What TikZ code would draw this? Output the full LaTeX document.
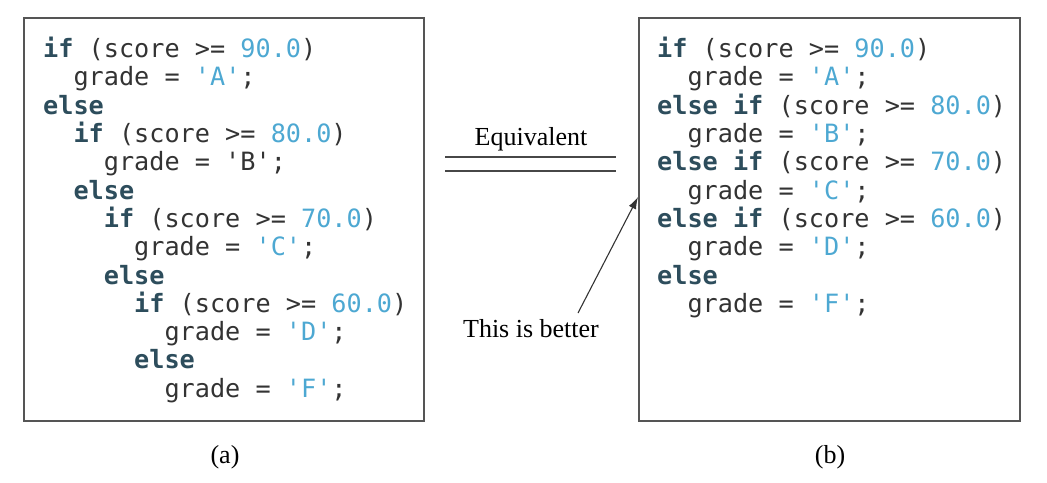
\documentclass[tikz,border=0pt]{standalone}
\usepackage{fontspec}
\setmainfont{Liberation Serif}
\setmonofont{DejaVu Sans Mono}
\usetikzlibrary{arrows.meta,positioning}
\definecolor{kwcolor}{HTML}{2D4D5C}
\definecolor{numcolor}{HTML}{4DA8D2}
\definecolor{codecolor}{HTML}{333333}
\definecolor{framecolor}{HTML}{555555}
\newcommand{\kw}[1]{{\bfseries\color{kwcolor}#1}}
\newcommand{\nm}[1]{{\color{numcolor}#1}}
\newcommand{\indn}[1]{\hspace*{#1\dimexpr 1.204em\relax}}
\tikzset{
	codebox/.style = {draw=framecolor, line width=1.6pt},
	codetext/.style = {
			anchor=north west, inner sep=0pt, align=left, text=codecolor,
			font=\fontsize{25.2}{28.3}\selectfont\ttfamily,
		},
	caption/.style = {anchor=base, inner sep=0pt, font=\fontsize{26}{30}\selectfont},
	>={Latex[length=12pt,width=8pt]},
}

\begin{document}
\begin{tikzpicture}[x=1pt,y=-1pt]
	\useasboundingbox (0,0) rectangle (1047,482);

	\draw[codebox] (24,18) rectangle (424,421);
	\draw[codebox] (639,18) rectangle (1020,421);

	\node[codetext] (nested) at (43,37) {%
		\kw{if} (score >= \nm{90.0})\\
		\indn{1}grade = \nm{'A'};\\
		\kw{else}\\
		\indn{1}\kw{if} (score >= \nm{80.0})\\
		\indn{2}grade = 'B';\\
		\indn{1}\kw{else}\\
		\indn{2}\kw{if} (score >= \nm{70.0})\\
		\indn{3}grade = \nm{'C'};\\
		\indn{2}\kw{else}\\
		\indn{3}\kw{if} (score >= \nm{60.0})\\
		\indn{4}grade = \nm{'D'};\\
		\indn{3}\kw{else}\\
		\indn{4}grade = \nm{'F'};};

	\node[codetext] (chained) at (657,37) {%
		\kw{if} (score >= \nm{90.0})\\
		\indn{1}grade = \nm{'A'};\\
		\kw{else if} (score >= \nm{80.0})\\
		\indn{1}grade = \nm{'B'};\\
		\kw{else if} (score >= \nm{70.0})\\
		\indn{1}grade = \nm{'C'};\\
		\kw{else if} (score >= \nm{60.0})\\
		\indn{1}grade = \nm{'D'};\\
		\kw{else}\\
		\indn{1}grade = \nm{'F'};};

	\node[caption] (equiv) at (531,145) {Equivalent};
	\node[caption] (better) at (531,337) {This is better};
	\node[caption] (capa) at (225,463) {(a)};
	\node[caption] (capb) at (830,463) {(b)};

	\coordinate (eqtopL) at (445,157);
	\coordinate (eqtopR) at (616,157);
	\coordinate (eqbotL) at (445,171);
	\coordinate (eqbotR) at (616,171);
	\coordinate (tail) at (578,313);
	\coordinate (tip) at (638,197);

	\draw[line width=1.8pt, draw=codecolor!90!white] (eqtopL) -- (eqtopR);
	\draw[line width=1.8pt, draw=codecolor!90!white] (eqbotL) -- (eqbotR);
	\draw[->, line width=1.1pt, draw=codecolor] (tail) -- (tip);
\end{tikzpicture}
\end{document}
